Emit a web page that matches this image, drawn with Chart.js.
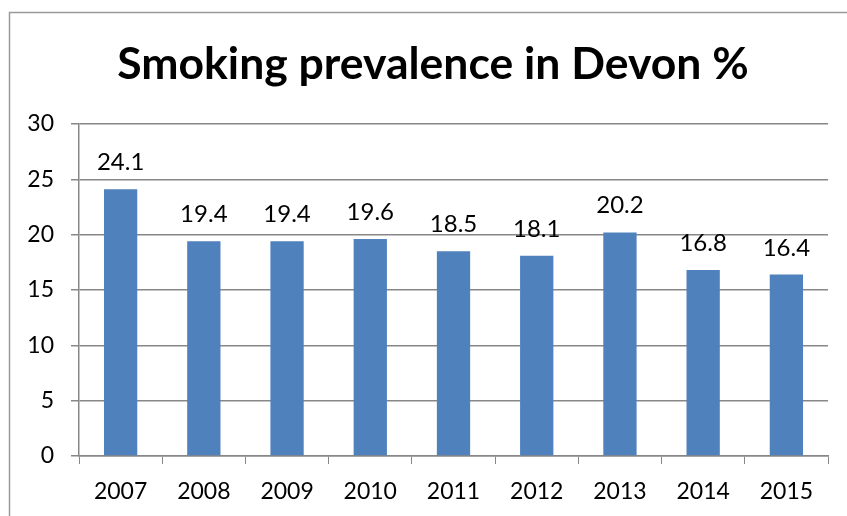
<!DOCTYPE html>
<html><head><meta charset="utf-8">
<script src="https://cdn.jsdelivr.net/npm/chart.js@4/dist/chart.umd.min.js"></script>
<style>html,body{margin:0;padding:0;background:#fff}#wrap{width:847px;height:516px;position:relative}</style>
</head><body><div id="wrap"><canvas id="c" width="847" height="516"></canvas></div>
<script>
const categories = ["2007","2008","2009","2010","2011","2012","2013","2014","2015"];
const prevalence = [24.1,19.4,19.4,19.6,18.5,18.1,20.2,16.8,16.4];
const yTicks = [0,5,10,15,20,25,30];
const titleText = "Smoking prevalence in Devon %";

const FONT = "Lato, 'Open Sans', sans-serif";
const GRID = "#878787";

const framePlugin = {
  id: 'frame',
  beforeDraw(chart){
    const ctx = chart.ctx;
    ctx.save();
    ctx.fillStyle = '#fff';
    ctx.fillRect(0,0,chart.width,chart.height);
    ctx.strokeStyle = '#9a9a9a';
    ctx.lineWidth = 1.5;
    ctx.beginPath();
    ctx.moveTo(9.5, chart.height);
    ctx.lineTo(9.5, 12.5);
    ctx.lineTo(chart.width, 12.5);
    ctx.stroke();
    ctx.fillStyle = '#000';
    ctx.font = "bold 44.5px " + FONT;
    ctx.textAlign = 'center';
    ctx.textBaseline = 'middle';
    ctx.fillText(titleText, 433, 65);
    ctx.restore();
  }
};
const labelPlugin = {
  id: 'barLabels',
  afterDatasetsDraw(chart){
    const ctx = chart.ctx;
    const meta = chart.getDatasetMeta(0);
    ctx.save();
    ctx.fillStyle = '#000';
    ctx.font = "24px " + FONT;
    ctx.textAlign = 'center';
    ctx.textBaseline = 'alphabetic';
    meta.data.forEach((bar,i)=>{
      ctx.fillText(String(prevalence[i].toFixed(1)), bar.x, bar.y - 19);
    });
    ctx.restore();
  }
};

new Chart(document.getElementById('c'), {
  type: 'bar',
  data: {
    labels: categories,
    datasets: [{ data: prevalence, backgroundColor: '#4F81BD', borderWidth: 0, barPercentage: 0.4, categoryPercentage: 1.0 }]
  },
  options: {
    responsive: false,
    animation: false,
    devicePixelRatio: 1,
    layout: { padding: { left: 0, right: 19, top: 124, bottom: 0 } },
    plugins: { legend: { display: false }, tooltip: { enabled: false }, title: { display: false } },
    scales: {
      x: {
        grid: { display: true, drawOnChartArea: false, drawTicks: true, tickLength: 8, color: GRID, offset: true },
        border: { color: GRID, width: 1.5 },
        ticks: { color: '#000', font: { family: FONT, size: 23 }, padding: 14, maxRotation: 0 },
        afterFit(s){ s.height = 60; }
      },
      y: {
        min: 0, max: 30,
        afterBuildTicks(s){ s.ticks = yTicks.map(v=>({value:v})); },
        grid: { color: GRID, lineWidth: 1.5, tickLength: 8, drawTicks: true },
        border: { color: GRID, width: 1.5 },
        ticks: { color: '#000', font: { family: FONT, size: 23 }, padding: 17 },
        afterFit(s){ s.width = 79; }
      }
    }
  },
  plugins: [framePlugin, labelPlugin]
});
</script></body></html>
